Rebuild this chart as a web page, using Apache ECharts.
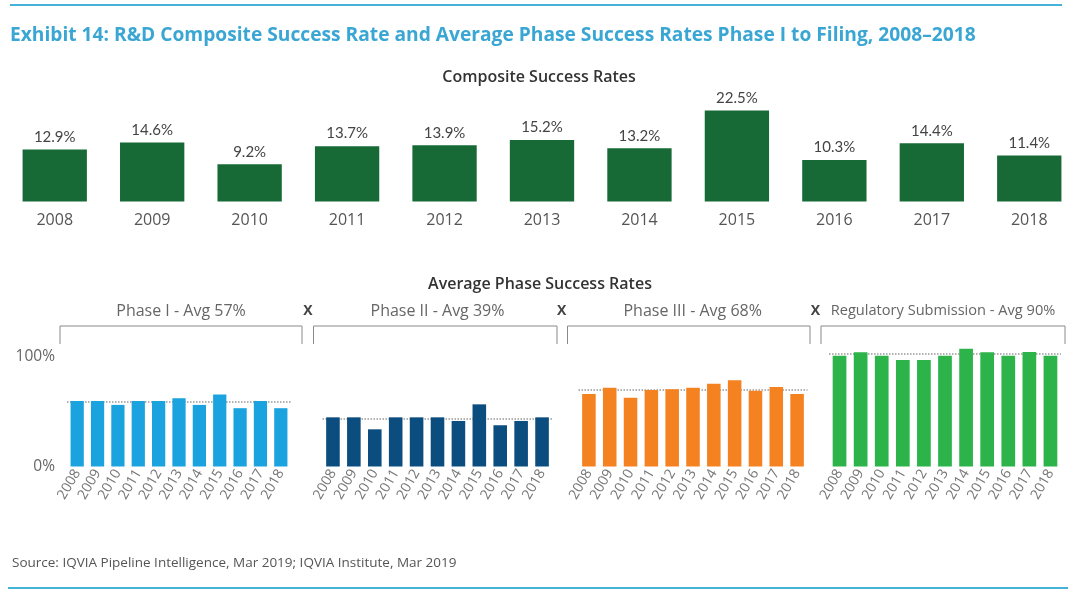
<!DOCTYPE html>
<html>
<head>
<meta charset="utf-8">
<script src="https://cdn.jsdelivr.net/npm/echarts@6/dist/echarts.min.js"></script>
<style>
  html, body { margin: 0; padding: 0; background: #fff; }
  #main { width: 1080px; height: 594px; }
</style>
</head>
<body>
<div id="main"></div>
<script>
// data
let years = ['2008', '2009', '2010', '2011', '2012', '2013', '2014', '2015', '2016', '2017', '2018'];
let composite = [12.9, 14.6, 9.2, 13.7, 13.9, 15.2, 13.2, 22.5, 10.3, 14.4, 11.4];

let phase1 = [59.5, 59.5, 56, 59.5, 59.5, 62, 56, 65.5, 53, 59.5, 53];
let phase2 = [44.7, 44.7, 33.8, 44.7, 44.7, 44.7, 41.4, 56.5, 37.5, 41.4, 44.7];
let phase3 = [66, 71.6, 62.5, 69.5, 70.2, 71.6, 75.3, 78.4, 68.9, 72.3, 66];
let phase4 = [100.7, 103.8, 100.7, 96.9, 96.9, 100.7, 107.1, 103.8, 100.7, 104.1, 100.7];
let phaseAvgLine = [59, 43.2, 69.5, 102.7];

let phaseNames = ['Phase I - Avg 57%', 'Phase II - Avg 39%', 'Phase III - Avg 68%', 'Regulatory Submission - Avg 90%'];
let yTicks = [0, 100];

let FONT = '"Open Sans", Lato, sans-serif';
let LATO = 'Lato, "Open Sans", sans-serif';
let phaseColors = ['#1aa3de', '#0b4d7f', '#f58220', '#2cb34a'];
let phaseData = [phase1, phase2, phase3, phase4];

// grid boxes of the four phase panels
let phaseGrids = [
  { left: 67, width: 224 },
  { left: 322.5, width: 230 },
  { left: 578.5, width: 229 },
  { left: 829, width: 232 }
];
// brackets over the panels [x1, x2]
let brackets = [[60, 302], [313.5, 557], [567.5, 810], [821, 1065]];

let chartDom = document.getElementById('main');
let myChart = echarts.init(chartDom);

let grids = [{ left: 6, top: 100.5, width: 1072, height: 101 }];
let xAxes = [{
  type: 'category',
  gridIndex: 0,
  data: years,
  axisLine: { show: false },
  axisTick: { show: false },
  axisLabel: { color: '#555', fontSize: 16, fontFamily: FONT, margin: 11 }
}];
let yAxes = [{ type: 'value', gridIndex: 0, min: 0, max: 25, show: false }];
let series = [{
  type: 'bar',
  xAxisIndex: 0,
  yAxisIndex: 0,
  data: composite,
  barWidth: '66%',
  itemStyle: { color: '#176a36' },
  label: {
    show: true,
    position: 'top',
    distance: 5,
    formatter: '{c}%',
    color: '#444',
    fontSize: 15,
    fontFamily: LATO
  }
}];

phaseGrids.forEach(function(g, i) {
  grids.push({ left: g.left, width: g.width, top: 345.5, height: 121 });
  xAxes.push({
    type: 'category',
    gridIndex: i + 1,
    data: years,
    axisLine: { show: false },
    axisTick: { show: false },
    axisLabel: {
      interval: 0,
      rotate: 60,
      color: '#777',
      fontSize: 14,
      fontFamily: FONT,
      margin: 4
    }
  });
  yAxes.push({
    type: 'value',
    gridIndex: i + 1,
    min: 0,
    max: 110,
    interval: 100,
    splitLine: { show: false },
    axisLine: { show: false },
    axisTick: { show: false },
    axisLabel: {
      show: i === 0,
      color: '#666',
      fontSize: 15.5,
      fontFamily: FONT,
      margin: 12,
      formatter: function(v) {
        return yTicks.indexOf(v) >= 0 ? v + '%' : '';
      }
    }
  });
  series.push({
    type: 'bar',
    xAxisIndex: i + 1,
    yAxisIndex: i + 1,
    data: phaseData[i],
    barWidth: '65%',
    z: 3,
    itemStyle: { color: phaseColors[i] },
    markLine: {
      silent: true,
      z: 1,
      symbol: 'none',
      label: { show: false },
      lineStyle: { color: '#999', type: 'dotted', width: 1.5 },
      data: [{ yAxis: phaseAvgLine[i] }]
    }
  });
});

let graphics = [
  { type: 'line', shape: { x1: 10, y1: 5, x2: 1062, y2: 5 }, style: { stroke: '#45b3d8', lineWidth: 2 } },
  { type: 'line', shape: { x1: 8, y1: 588, x2: 1068, y2: 588 }, style: { stroke: '#45b3d8', lineWidth: 2 } },
  {
    type: 'text', x: 10, y: 36,
    style: {
      text: 'Exhibit 14: R&D Composite Success Rate and Average Phase Success Rates Phase I to Filing, 2008\u20132018',
      fill: '#3aa6d4', font: 'bold 19.2px ' + FONT, verticalAlign: 'middle'
    }
  },
  {
    type: 'text', x: 539, y: 77,
    style: { text: 'Composite Success Rates', fill: '#333', font: '600 16px ' + FONT, align: 'center', verticalAlign: 'middle' }
  },
  {
    type: 'text', x: 540, y: 284,
    style: { text: 'Average Phase Success Rates', fill: '#333', font: '600 16px ' + FONT, align: 'center', verticalAlign: 'middle' }
  },
  {
    type: 'text', x: 12, y: 563,
    style: {
      text: 'Source: IQVIA Pipeline Intelligence, Mar 2019; IQVIA Institute, Mar 2019',
      fill: '#555', font: '13.5px ' + FONT, verticalAlign: 'middle'
    }
  }
];

let labelCenters = [181, 437.5, 692.7, 943];
let labelSizes = [16, 16, 16, 14.6];
let xMarks = [308, 561.7, 815.5];

brackets.forEach(function(b, i) {
  graphics.push({
    type: 'polyline',
    shape: { points: [[b[0], 344], [b[0], 326], [b[1], 326], [b[1], 344]] },
    style: { stroke: '#8a8a8a', lineWidth: 1, fill: null }
  });
  graphics.push({
    type: 'text', x: labelCenters[i], y: 311,
    style: { text: phaseNames[i], fill: '#666', font: labelSizes[i] + 'px ' + FONT, align: 'center', verticalAlign: 'middle' }
  });
});
xMarks.forEach(function(x) {
  graphics.push({
    type: 'text', x: x, y: 311,
    style: { text: 'X', fill: '#444', font: 'bold 14px ' + FONT, align: 'center', verticalAlign: 'middle' }
  });
});

let option = {
  backgroundColor: '#fff',
  animation: false,
  grid: grids,
  xAxis: xAxes,
  yAxis: yAxes,
  series: series,
  graphic: graphics
};

option && myChart.setOption(option);
</script>
</body>
</html>
